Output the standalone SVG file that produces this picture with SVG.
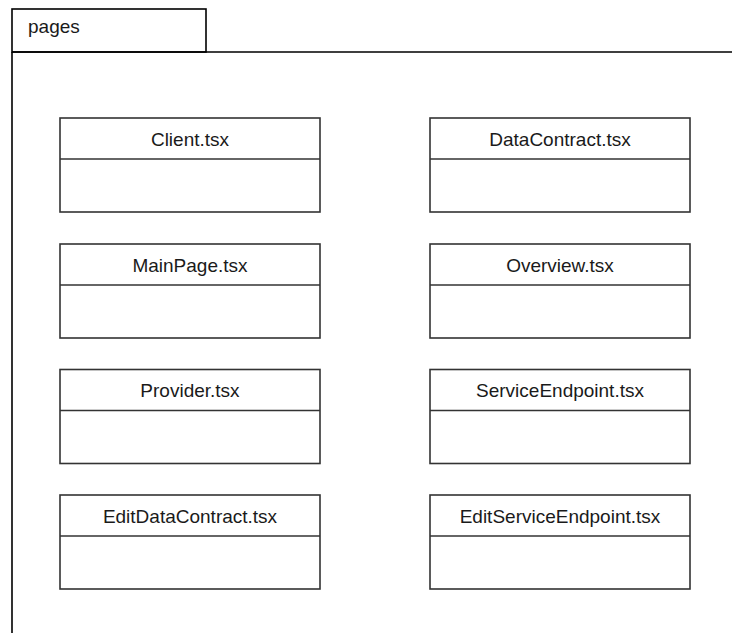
<svg xmlns="http://www.w3.org/2000/svg" width="732" height="633" viewBox="0 0 732 633">
  <style>
    .frame { fill: none; stroke: #000; stroke-width: 1.6; }
    .box { fill: #fff; stroke: #333; stroke-width: 1.6; }
    .label { font-family: "Liberation Sans", Arial, sans-serif; font-size: 19px; fill: #1a1a1a; }
    .title { text-anchor: middle; }
  </style>
  <rect width="732" height="633" fill="#fff"/>
  <!-- package frame with tab -->
  <g id="pages">
    <rect class="frame" x="12" y="9" width="194" height="43"/>
    <path class="frame" d="M12 52 H733 M12 52 V634"/>
    <text class="label" x="28" y="33">pages</text>
  </g>
  <defs>
    <!-- class box: name compartment above an empty body -->
    <g id="cls">
      <rect class="box" x="0" y="0" width="260" height="94"/>
      <line class="box" x1="0" y1="41" x2="260" y2="41"/>
    </g>
  </defs>
  <g id="client"><use href="#cls" x="60" y="118"/><text class="label title" x="190" y="146">Client.tsx</text></g>
  <g id="datacontract"><use href="#cls" x="430" y="118"/><text class="label title" x="560" y="146">DataContract.tsx</text></g>
  <g id="mainpage"><use href="#cls" x="60" y="244"/><text class="label title" x="190" y="272">MainPage.tsx</text></g>
  <g id="overview"><use href="#cls" x="430" y="244"/><text class="label title" x="560" y="272">Overview.tsx</text></g>
  <g id="provider"><use href="#cls" x="60" y="369.5"/><text class="label title" x="190" y="397">Provider.tsx</text></g>
  <g id="serviceendpoint"><use href="#cls" x="430" y="369.5"/><text class="label title" x="560" y="397">ServiceEndpoint.tsx</text></g>
  <g id="editdatacontract"><use href="#cls" x="60" y="495"/><text class="label title" x="190" y="523">EditDataContract.tsx</text></g>
  <g id="editserviceendpoint"><use href="#cls" x="430" y="495"/><text class="label title" x="560" y="523">EditServiceEndpoint.tsx</text></g>
  <g id="connectors"/>
</svg>
